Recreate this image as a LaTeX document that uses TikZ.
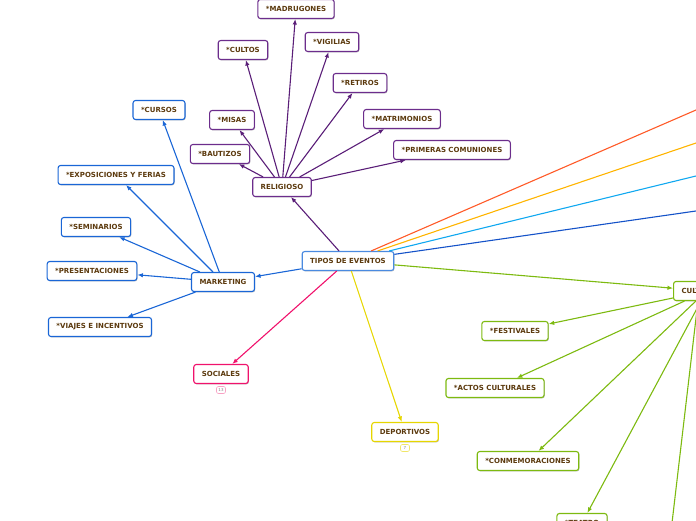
\documentclass[tikz,border=0pt]{standalone}
\usepackage{fontspec}
\setmainfont{DejaVu Sans}
\usetikzlibrary{arrows.meta,shadows}
\definecolor{txt}{HTML}{5C3A0E}
\definecolor{pur}{HTML}{5A1E78}
\definecolor{purb}{HTML}{6C2D8C}
\definecolor{mblue}{HTML}{1A66D6}
\definecolor{tblue}{HTML}{4A8AE0}
\definecolor{pinkc}{HTML}{F0126C}
\definecolor{yel}{HTML}{E6D600}
\definecolor{grn}{HTML}{7DBA10}
\definecolor{orng}{HTML}{FF5A28}
\definecolor{ambr}{HTML}{FFB400}
\definecolor{cyanc}{HTML}{10A8F0}
\definecolor{dblue}{HTML}{1452C8}
\tikzset{
  box/.style={draw=#1, rounded corners=2.5pt, line width=1.1pt, fill=white,
    font=\fontsize{7}{8}\selectfont\bfseries, text=txt, inner xsep=8pt,
    minimum height=19pt, inner ysep=0pt,
    drop shadow={shadow xshift=0.7pt, shadow yshift=-0.9pt, opacity=0.25, fill=black}},
  badge/.style={draw=#1, rounded corners=2pt, line width=0.6pt, fill=white,
    font=\fontsize{4}{4}\selectfont, text=gray, inner sep=1pt, minimum width=9pt, minimum height=7pt},
  conn/.style={draw=#1, line width=1.1pt, -{Latex[length=5.5pt,width=4.5pt]}},
  plain/.style={draw=#1, line width=1.1pt},
}
\begin{document}
\begin{tikzpicture}[x=1pt,y=-1pt]
\useasboundingbox (0,0) rectangle (696,520);
\clip (0,0) rectangle (696,520);
% hidden targets
\coordinate (h1) at (696,110);
\coordinate (h2) at (696,143);
\coordinate (h3) at (696,176);
\coordinate (h4) at (696,211);
\coordinate (h6) at (670,540);

% main nodes
\node[box=tblue] (tipos) at (348,261) {TIPOS DE EVENTOS};
\node[box=purb] (rel) at (282,187) {RELIGIOSO};
\node[box=mblue] (mkt) at (223,282) {MARKETING};
\node[box=pinkc] (soc) at (221,374) {SOCIALES};
\node[box=yel] (dep) at (405,432) {DEPORTIVOS};
\node[box=grn, anchor=west] (cult) at (673,291) {CULTURALES};
\node[badge=pinkc!40] (b13) at (221,390) {13};
\node[badge=yel!60] (b7) at (405,448) {7};

% religioso children
\node[box=purb] (madr) at (296,9) {*MADRUGONES};
\node[box=purb] (cultos) at (243,50) {*CULTOS};
\node[box=purb] (vig) at (332,42) {*VIGILIAS};
\node[box=purb] (ret) at (360,83) {*RETIROS};
\node[box=purb] (misas) at (232,120) {*MISAS};
\node[box=purb] (baut) at (220,154) {*BAUTIZOS};
\node[box=purb] (matr) at (402,119) {*MATRIMONIOS};
\node[box=purb] (prim) at (452,150) {*PRIMERAS COMUNIONES};

% marketing children
\node[box=mblue] (curs) at (159,110) {*CURSOS};
\node[box=mblue] (expo) at (116,175) {*EXPOSICIONES Y FERIAS};
\node[box=mblue] (sem) at (96,227) {*SEMINARIOS};
\node[box=mblue] (pres) at (92,271) {*PRESENTACIONES};
\node[box=mblue] (viaj) at (100,327) {*VIAJES E INCENTIVOS};

% culturales children
\node[box=grn] (fest) at (515,331) {*FESTIVALES};
\node[box=grn] (actos) at (495,388) {*ACTOS CULTURALES};
\node[box=grn] (conm) at (528,461) {*CONMEMORACIONES};
\node[box=grn] (teat) at (582,523) {*TEATRO};

% connectors from tipos
\draw[plain=orng] (tipos) -- (h1);
\draw[plain=ambr] (tipos) -- (h2);
\draw[plain=cyanc] (tipos) -- (h3);
\draw[plain=dblue] (tipos) -- (h4);
\draw[conn=grn] (tipos) -- (cult);
\draw[conn=pur] (tipos) -- (rel);
\draw[conn=mblue] (tipos) -- (mkt);
\draw[conn=pinkc] (tipos) -- (soc);
\draw[conn=yel] (tipos) -- (dep);

% religioso
\foreach \t in {madr,cultos,vig,ret,misas,baut,matr,prim}
  \draw[conn=pur] (rel) -- (\t);
% marketing
\foreach \t in {curs,expo,sem,pres,viaj}
  \draw[conn=mblue] (mkt) -- (\t);
% culturales
\foreach \t in {fest,actos,conm,teat}
  \draw[conn=grn] (cult) -- (\t);
\draw[plain=grn] ([xshift=25pt]cult.south west) -- (h6);
\end{tikzpicture}
\end{document}
